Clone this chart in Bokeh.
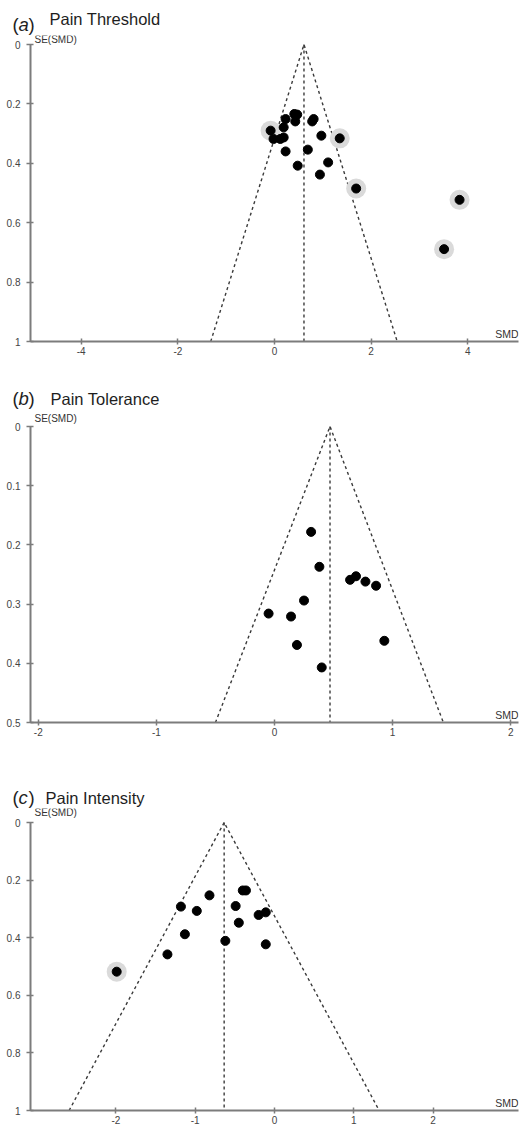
from bokeh.plotting import figure
from bokeh.layouts import column
from bokeh.models import Range1d, FixedTicker, CustomJSTickFormatter, Label
from bokeh.core.properties import value
from bokeh.embed import file_html
from bokeh.resources import INLINE

# ---------------- data ----------------
# (a) Pain Threshold
a_smd = [-0.02, 0.12, 0.19, 0.19, 0.23, 0.41, 0.47, 0.43, 0.23, 0.69, 0.48, 0.81, 0.78, 0.97, 1.11, 0.94]
a_se = [0.318, 0.318, 0.313, 0.279, 0.251, 0.234, 0.236, 0.259, 0.360, 0.354, 0.408, 0.251, 0.259, 0.307, 0.397, 0.438]
a_out_smd = [-0.08, 1.35, 1.69, 3.83, 3.51]
a_out_se = [0.290, 0.316, 0.485, 0.523, 0.689]
a_funnel = [-1.32, 0.61, 2.54]        # lower bound at max SE, pooled SMD, upper bound
a_xticks = [-4, -2, 0, 2, 4]
a_yticks = [0, 0.2, 0.4, 0.6, 0.8, 1]

# (b) Pain Tolerance
b_smd = [0.31, 0.38, 0.64, 0.69, 0.77, 0.86, 0.25, -0.05, 0.14, 0.19, 0.40, 0.93]
b_se = [0.178, 0.237, 0.259, 0.253, 0.262, 0.269, 0.294, 0.316, 0.321, 0.369, 0.407, 0.362]
b_out_smd = []
b_out_se = []
b_funnel = [-0.50, 0.47, 1.43]
b_xticks = [-2, -1, 0, 1, 2]
b_yticks = [0, 0.1, 0.2, 0.3, 0.4, 0.5]

# (c) Pain Intensity
c_smd = [-0.82, -0.40, -0.36, -0.49, -1.18, -0.98, -0.20, -0.11, -0.45, -1.13, -0.62, -0.11, -1.35]
c_se = [0.253, 0.236, 0.236, 0.290, 0.292, 0.307, 0.321, 0.312, 0.348, 0.388, 0.411, 0.423, 0.458]
c_out_smd = [-1.99]
c_out_se = [0.518]
c_funnel = [-2.59, -0.635, 1.32]
c_xticks = [-2, -1, 0, 1, 2]
c_yticks = [0, 0.2, 0.4, 0.6, 0.8, 1]

AX = "#7c7c7c"
TXT = "#444444"
FONT = "Liberation Sans"
W = 519
SHIFT = 0.38   # bokeh draws "alphabetic" text this many em lower; compensate


def title_fig(letter, title, height, base, title_base, title_x):
    t = figure(width=W, height=height, x_range=Range1d(0, W), y_range=Range1d(height, 0),
               x_axis_type=None, y_axis_type=None, output_backend="svg",
               toolbar_location=None, min_border=0,
               min_border_left=0, min_border_right=0, min_border_top=0, min_border_bottom=0)
    t.frame_align = False
    t.outline_line_color = None
    t.grid.visible = False
    common = dict(text_font=value(FONT), text_baseline="alphabetic", text_color="#1e1e1e")
    pb = base - SHIFT * 18.5
    t.text(x=[12], y=[pb], text=["("], text_font_size="18.5px", **common)
    t.text(x=[18], y=[pb], text=[letter], text_font_size="18.5px",
           text_font_style="italic", **common)
    t.text(x=[28], y=[pb], text=[")"], text_font_size="18.5px", **common)
    t.text(x=[title_x], y=[title_base - SHIFT * 16.5], text=[title],
           text_font_size="16.5px", **common)
    return t


def panel(xhalf, xticks, yticks, ymax, smd, se, osmd, ose, funnel,
          px_per_unit, ext_px, bottom, se_dy):
    data_h = round(px_per_unit * ymax)
    frame_h = data_h + ext_px
    p = figure(width=W, height=frame_h + bottom,
               x_range=Range1d(-xhalf, xhalf), y_range=Range1d(ymax, -ext_px / px_per_unit),
               output_backend="svg", toolbar_location=None,
               min_border_left=30, min_border_right=1,
               min_border_top=0, min_border_bottom=bottom)
    p.frame_align = False
    p.outline_line_color = None
    p.grid.visible = False
    fmt = "return String(tick)"
    for ax, ticks in ((p.xaxis[0], xticks), (p.yaxis[0], yticks)):
        ax.ticker = FixedTicker(ticks=ticks)
        ax.formatter = CustomJSTickFormatter(code=fmt)
        ax.axis_line_color = AX
        ax.axis_line_width = 2
        ax.major_tick_line_color = AX
        ax.major_tick_line_width = 1.5
        ax.major_tick_in = 3
        ax.major_tick_out = 3
        ax.minor_tick_in = 0
        ax.minor_tick_out = 0
        ax.major_label_text_font = FONT
        ax.major_label_text_font_size = "10px"
        ax.major_label_text_color = TXT
    p.yaxis.bounds = (0, ymax)
    p.xaxis.major_label_standoff = 2
    p.yaxis.major_label_standoff = 6
    p.yaxis.major_tick_out = 4

    lo, c, hi = funnel
    p.line([lo, c, hi], [ymax, 0, ymax], line_color="#3a3a3a", line_width=1.4, line_dash="3 3")
    p.line([c, c], [0, ymax], line_color="#3a3a3a", line_width=1.4, line_dash="3 3")

    if osmd:
        p.scatter(osmd, ose, size=20, fill_color="#dadada", line_color=None)
        p.scatter(osmd, ose, size=9, fill_color="black", line_color="black")
    p.scatter(smd, se, size=9, fill_color="black", line_color="black")

    p.add_layout(Label(x=4, y=data_h + se_dy + SHIFT * 10, x_units="screen", y_units="screen",
                       text="SE(SMD)", text_font=FONT, text_font_size="10px",
                       text_color="#333333", text_baseline="alphabetic"))
    p.add_layout(Label(x=488, y=4 + SHIFT * 10.5, x_units="screen", y_units="screen",
                       text="SMD", text_font=FONT, text_font_size="10.5px",
                       text_color="#333333", text_baseline="alphabetic", text_align="right"))
    return p


ta = title_fig("a", "Pain Threshold", 35, 31, 25, 49)
pa = panel(5.05, a_xticks, a_yticks, 1.0, a_smd, a_se, a_out_smd, a_out_se, a_funnel,
           px_per_unit=297, ext_px=9, bottom=34, se_dy=1.5)
tb = title_fig("b", "Pain Tolerance", 36, 30, 30, 50)
pb = panel(2.066, b_xticks, b_yticks, 0.5, b_smd, b_se, b_out_smd, b_out_se, b_funnel,
           px_per_unit=592, ext_px=15, bottom=38, se_dy=4)
tc = title_fig("c", "Pain Intensity", 48, 44, 44, 45)
pc = panel(3.077, c_xticks, c_yticks, 1.0, c_smd, c_se, c_out_smd, c_out_se, c_funnel,
           px_per_unit=288, ext_px=14, bottom=17, se_dy=6)

layout = column(ta, pa, tb, pb, tc, pc, spacing=0)
open("out.html", "w").write(file_html(layout, INLINE))
